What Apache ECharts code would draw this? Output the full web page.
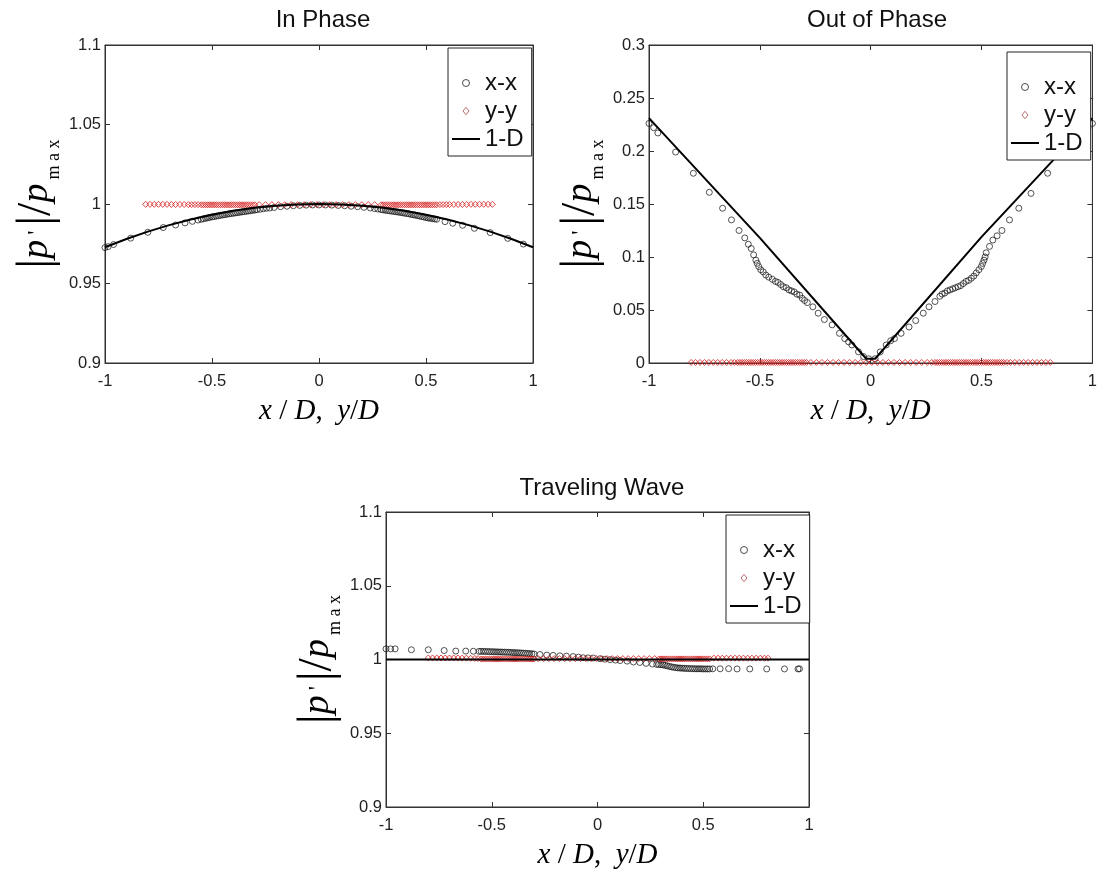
<!DOCTYPE html>
<html>
<head>
<meta charset="utf-8">
<script src="https://cdn.jsdelivr.net/npm/echarts@6/dist/echarts.min.js"></script>
<style>html,body{margin:0;padding:0;background:#fff;}#c{width:1100px;height:871px;}</style>
</head>
<body>
<div id="c"></div>
<script>
// ---------- DATA ----------
const titles = ['In Phase', 'Out of Phase', 'Traveling Wave'];
const legendNames = ['x-x', 'y-y', '1-D'];
const xTickRange = [-1, 1, 0.5];
const yTickRanges = [[0.9, 1.1, 0.05], [0, 0.3, 0.05], [0.9, 1.1, 0.05]];

// In Phase
const ipLine = [[-1,0.9728],[-0.9,0.978],[-0.8,0.9826],[-0.7,0.9867],[-0.6,0.9903],[-0.5,0.9933],[-0.4,0.9957],[-0.3,0.9976],[-0.2,0.9989],[-0.1,0.9997],[0,1.0],[0.1,0.9997],[0.2,0.9989],[0.3,0.9976],[0.4,0.9957],[0.5,0.9933],[0.6,0.9903],[0.7,0.9867],[0.8,0.9826],[0.9,0.978],[1,0.9728]];
const ipXX = [[-1.0,0.9726],[-0.985,0.9732],[-0.96,0.9745],[-0.88,0.9785],[-0.80,0.9822],[-0.728,0.9852],[-0.67,0.9868],[-0.626,0.9881],[-0.592,0.9891],[-0.565,0.9899],
[-0.55,0.9904],[-0.54,0.9907],[-0.53,0.9910],[-0.52,0.9913],[-0.51,0.9916],[-0.50,0.9919],[-0.49,0.9921],[-0.48,0.9924],[-0.47,0.9926],[-0.46,0.9929],[-0.45,0.9931],[-0.44,0.9933],[-0.43,0.9936],[-0.42,0.9938],[-0.41,0.9940],[-0.40,0.9942],[-0.39,0.9944],[-0.38,0.9946],[-0.37,0.9948],[-0.36,0.9950],[-0.35,0.9952],[-0.34,0.9954],[-0.33,0.9956],[-0.32,0.9958],[-0.31,0.9960],[-0.30,0.9962],[-0.29,0.9964],[-0.275,0.9967],[-0.26,0.9970],[-0.245,0.9973],[-0.23,0.9975],[-0.21,0.9978],
[-0.18,0.9983],[-0.15,0.9986],[-0.12,0.9989],[-0.09,0.9991],[-0.06,0.9993],[-0.03,0.9994],[0.0,0.9994],[0.03,0.9994],[0.06,0.9993],[0.09,0.9991],[0.12,0.9989],[0.15,0.9986],[0.18,0.9983],[0.21,0.9979],[0.24,0.9975],
[0.26,0.9971],[0.275,0.9968],[0.29,0.9965],[0.30,0.9963],[0.31,0.9961],[0.32,0.9959],[0.33,0.9957],[0.34,0.9955],[0.35,0.9953],[0.36,0.9951],[0.37,0.9949],[0.38,0.9947],[0.39,0.9945],[0.40,0.9942],[0.41,0.9940],[0.42,0.9938],[0.43,0.9935],[0.44,0.9932],[0.45,0.9930],[0.46,0.9927],[0.47,0.9924],[0.48,0.9921],[0.49,0.9918],[0.50,0.9915],[0.51,0.9912],[0.52,0.9910],[0.53,0.9908],[0.54,0.9906],[0.55,0.9904],
[0.589,0.9889],[0.625,0.9879],[0.671,0.9866],[0.726,0.9847],[0.80,0.9820],[0.882,0.9784],[0.955,0.9748]];
const ipYY = [[-0.81,0.9998],[-0.79,0.9998],[-0.77,0.9998],[-0.75,0.9998],[-0.73,0.9998],[-0.71,0.9998],[-0.69,0.9997],[-0.67,0.9997],[-0.65,0.9997],[-0.63,0.9997],[-0.61,0.9996],[-0.595,0.9996],[-0.58,0.9996],[-0.565,0.9996],
[-0.55,0.9995],[-0.54,0.9995],[-0.53,0.9995],[-0.52,0.9995],[-0.51,0.9995],[-0.50,0.9995],[-0.49,0.9995],[-0.48,0.9995],[-0.47,0.9995],[-0.46,0.9995],[-0.45,0.9995],[-0.44,0.9995],[-0.43,0.9995],[-0.42,0.9995],[-0.41,0.9995],[-0.40,0.9995],[-0.39,0.9995],[-0.38,0.9995],[-0.37,0.9995],[-0.36,0.9995],[-0.35,0.9995],[-0.34,0.9995],[-0.33,0.9995],[-0.32,0.9995],[-0.31,0.9995],[-0.30,0.9995],
[-0.28,0.9996],[-0.25,0.9996],[-0.22,0.9996],[-0.19,0.9996],[-0.16,0.9996],[-0.13,0.9996],[-0.10,0.9996],[-0.07,0.9996],[-0.04,0.9996],[-0.01,0.9996],[0.02,0.9996],[0.05,0.9996],[0.08,0.9996],[0.11,0.9996],[0.14,0.9996],[0.17,0.9996],[0.20,0.9996],[0.23,0.9996],[0.26,0.9996],
[0.29,0.9995],[0.30,0.9995],[0.31,0.9995],[0.32,0.9995],[0.33,0.9995],[0.34,0.9995],[0.35,0.9995],[0.36,0.9995],[0.37,0.9995],[0.38,0.9995],[0.39,0.9995],[0.40,0.9995],[0.41,0.9995],[0.42,0.9995],[0.43,0.9995],[0.44,0.9995],[0.45,0.9995],[0.46,0.9995],[0.47,0.9995],[0.48,0.9995],[0.49,0.9995],[0.50,0.9995],[0.51,0.9995],[0.52,0.9995],[0.53,0.9995],[0.54,0.9995],[0.55,0.9995],
[0.565,0.9996],[0.58,0.9996],[0.595,0.9996],[0.61,0.9996],[0.63,0.9997],[0.65,0.9997],[0.67,0.9997],[0.69,0.9997],[0.71,0.9998],[0.73,0.9998],[0.75,0.9998],[0.77,0.9998],[0.79,0.9998],[0.81,0.9998]];

// Out of Phase
const opLine = [[-1,0.231],[-0.5,0.118],[-0.02,0.004],[0.02,0.004],[0.5,0.119],[1,0.231]];
const opXX = [[-1.0,0.226],[-0.979,0.222],[-0.96,0.217],[-0.88,0.199],[-0.80,0.179],[-0.728,0.161],[-0.668,0.146],[-0.628,0.135],[-0.594,0.125],[-0.568,0.118],[-0.552,0.112],[-0.539,0.108],[-0.528,0.102],[-0.518,0.097],
[-0.512,0.094],[-0.505,0.091],[-0.496,0.088],[-0.485,0.086],[-0.473,0.083],[-0.46,0.081],[-0.444,0.079],[-0.43,0.077],[-0.418,0.076],[-0.406,0.074],[-0.394,0.072],[-0.381,0.071],[-0.369,0.069],[-0.357,0.068],[-0.345,0.067],[-0.333,0.065],[-0.32,0.064],[-0.309,0.061],[-0.298,0.059],
[-0.286,0.057],[-0.261,0.053],[-0.237,0.047],[-0.209,0.041],[-0.174,0.036],[-0.141,0.028],[-0.117,0.023],[-0.10,0.020],[-0.085,0.017],[-0.055,0.0105],[-0.032,0.006],[-0.009,0.004],
[0.02,0.004],[0.043,0.0105],[0.07,0.017],[0.09,0.021],[0.107,0.023],[0.137,0.028],[0.173,0.034],[0.203,0.040],[0.237,0.047],[0.263,0.053],[0.29,0.058],[0.312,0.063],
[0.322,0.065],[0.334,0.066],[0.346,0.068],[0.358,0.069],[0.37,0.070],[0.382,0.071],[0.394,0.072],[0.406,0.073],[0.418,0.075],[0.43,0.077],[0.442,0.078],[0.454,0.080],[0.465,0.082],[0.476,0.085],[0.488,0.088],[0.499,0.091],[0.505,0.094],[0.511,0.097],[0.516,0.100],[0.521,0.104],
[0.536,0.110],[0.551,0.116],[0.57,0.120],[0.592,0.125],[0.626,0.135],[0.668,0.146],[0.723,0.160],[0.798,0.179],[0.88,0.199],[0.96,0.217],[0.98,0.222],[1.0,0.226]];
const opYY = [[-0.81,0.0005],[-0.79,0.0005],[-0.77,0.0005],[-0.75,0.0005],[-0.73,0.0005],[-0.71,0.0005],[-0.69,0.0005],[-0.67,0.0005],[-0.65,0.0005],[-0.63,0.0005],[-0.615,0.0005],
[-0.60,0.0005],[-0.59,0.0005],[-0.58,0.0005],[-0.57,0.0005],[-0.56,0.0005],[-0.55,0.0005],[-0.54,0.0005],[-0.53,0.0005],[-0.52,0.0005],[-0.51,0.0005],[-0.50,0.0005],[-0.49,0.0005],[-0.48,0.0005],[-0.47,0.0005],[-0.46,0.0005],[-0.45,0.0005],[-0.44,0.0005],[-0.43,0.0005],[-0.42,0.0005],[-0.41,0.0005],[-0.40,0.0005],[-0.39,0.0005],[-0.38,0.0005],[-0.37,0.0005],[-0.36,0.0005],[-0.35,0.0005],[-0.34,0.0005],[-0.33,0.0005],[-0.32,0.0005],[-0.31,0.0005],[-0.30,0.0005],[-0.29,0.0005],
[-0.27,0.0005],[-0.245,0.0005],[-0.22,0.0005],[-0.195,0.0005],[-0.17,0.0005],[-0.145,0.0005],[-0.12,0.0005],[-0.095,0.0005],[-0.07,0.0005],[-0.045,0.0005],[-0.02,0.0005],[0.005,0.0005],[0.03,0.0005],[0.055,0.0005],[0.08,0.0005],[0.105,0.0005],[0.13,0.0005],[0.155,0.0005],[0.18,0.0005],[0.205,0.0005],[0.23,0.0005],[0.255,0.0005],[0.275,0.0005],
[0.29,0.0005],[0.30,0.0005],[0.31,0.0005],[0.32,0.0005],[0.33,0.0005],[0.34,0.0005],[0.35,0.0005],[0.36,0.0005],[0.37,0.0005],[0.38,0.0005],[0.39,0.0005],[0.40,0.0005],[0.41,0.0005],[0.42,0.0005],[0.43,0.0005],[0.44,0.0005],[0.45,0.0005],[0.46,0.0005],[0.47,0.0005],[0.48,0.0005],[0.49,0.0005],[0.50,0.0005],[0.51,0.0005],[0.52,0.0005],[0.53,0.0005],[0.54,0.0005],[0.55,0.0005],[0.56,0.0005],[0.57,0.0005],[0.58,0.0005],[0.59,0.0005],[0.60,0.0005],
[0.615,0.0005],[0.63,0.0005],[0.65,0.0005],[0.67,0.0005],[0.69,0.0005],[0.71,0.0005],[0.73,0.0005],[0.75,0.0005],[0.77,0.0005],[0.79,0.0005],[0.81,0.0005]];

// Traveling Wave
const twLine = [[-1,1.0],[0,1.0],[1,1.0]];
const twXX = [[-1.0,1.0072],[-0.978,1.0072],[-0.957,1.0072],[-0.88,1.0066],[-0.80,1.0066],[-0.725,1.0061],[-0.67,1.0057],[-0.623,1.0057],[-0.587,1.0056],[-0.56,1.0055],
[-0.55,1.0055],[-0.54,1.0055],[-0.53,1.0054],[-0.52,1.0054],[-0.51,1.0053],[-0.50,1.0053],[-0.49,1.0052],[-0.48,1.0052],[-0.47,1.0051],[-0.46,1.0051],[-0.45,1.0050],[-0.44,1.0050],[-0.43,1.0049],[-0.42,1.0049],[-0.41,1.0048],[-0.40,1.0047],[-0.39,1.0046],[-0.38,1.0046],[-0.37,1.0045],[-0.36,1.0044],[-0.35,1.0043],[-0.34,1.0042],[-0.33,1.0041],[-0.32,1.0040],[-0.31,1.0039],[-0.30,1.0037],
[-0.272,1.0034],[-0.24,1.0030],[-0.21,1.0028],[-0.178,1.0025],[-0.147,1.0023],[-0.115,1.0020],[-0.09,1.0016],[-0.068,1.0012],[-0.045,1.0011],[-0.02,1.0010],[0.012,1.0005],[0.035,1.0002],[0.06,0.9999],[0.085,0.9996],[0.107,0.9993],[0.14,0.9989],[0.17,0.9983],[0.20,0.9980],[0.23,0.9974],[0.26,0.9969],[0.28,0.9967],
[0.29,0.9966],[0.30,0.9965],[0.31,0.9963],[0.32,0.9960],[0.33,0.9957],[0.34,0.9953],[0.35,0.9950],[0.36,0.9947],[0.37,0.9945],[0.38,0.9943],[0.39,0.9942],[0.40,0.9941],[0.41,0.9940],[0.42,0.9939],[0.43,0.9939],[0.44,0.9938],[0.45,0.9938],[0.46,0.9937],[0.47,0.9937],[0.48,0.9937],[0.49,0.9937],[0.50,0.9936],[0.51,0.9936],[0.52,0.9936],[0.53,0.9936],
[0.545,0.9937],[0.58,0.9937],[0.62,0.9938],[0.66,0.9936],[0.72,0.9936],[0.80,0.9936],[0.884,0.9936],[0.948,0.9936],[0.955,0.9937]];
const twYY = [[-0.80,1.001],[-0.78,1.001],[-0.76,1.001],[-0.74,1.001],[-0.72,1.001],[-0.70,1.001],[-0.68,1.001],[-0.66,1.001],[-0.64,1.0009],[-0.62,1.0009],[-0.60,1.0008],[-0.58,1.0007],[-0.565,1.0006],
[-0.55,1.0003],[-0.54,1.0003],[-0.53,1.0003],[-0.52,1.0003],[-0.51,1.0003],[-0.50,1.0003],[-0.49,1.0003],[-0.48,1.0003],[-0.47,1.0003],[-0.46,1.0003],[-0.45,1.0003],[-0.44,1.0003],[-0.43,1.0003],[-0.42,1.0003],[-0.41,1.0003],[-0.40,1.0003],[-0.39,1.0003],[-0.38,1.0003],[-0.37,1.0003],[-0.36,1.0003],[-0.35,1.0003],[-0.34,1.0003],[-0.33,1.0003],[-0.32,1.0003],[-0.31,1.0003],[-0.30,1.0003],
[-0.28,1.0006],[-0.255,1.0006],[-0.23,1.0006],[-0.205,1.0006],[-0.18,1.0006],[-0.155,1.0006],[-0.13,1.0006],[-0.105,1.0006],[-0.08,1.0006],[-0.055,1.0006],[-0.03,1.0006],[-0.005,1.0006],[0.02,1.0006],[0.045,1.0006],[0.07,1.0006],[0.095,1.0006],[0.12,1.0006],[0.145,1.0006],[0.17,1.0006],[0.195,1.0006],[0.22,1.0006],[0.245,1.0006],[0.27,1.0006],
[0.29,1.0004],[0.30,1.0004],[0.31,1.0004],[0.32,1.0004],[0.33,1.0004],[0.34,1.0004],[0.35,1.0004],[0.36,1.0004],[0.37,1.0004],[0.38,1.0004],[0.39,1.0004],[0.40,1.0004],[0.41,1.0004],[0.42,1.0004],[0.43,1.0004],[0.44,1.0004],[0.45,1.0004],[0.46,1.0004],[0.47,1.0004],[0.48,1.0004],[0.49,1.0004],[0.50,1.0004],[0.51,1.0004],[0.52,1.0004],[0.53,1.0004],
[0.55,1.0009],[0.57,1.0009],[0.59,1.0009],[0.61,1.0009],[0.63,1.0009],[0.65,1.0009],[0.67,1.0009],[0.69,1.0009],[0.71,1.0009],[0.73,1.0009],[0.75,1.0009],[0.77,1.0009],[0.79,1.0009],[0.806,1.0009]];

// ---------- LAYOUT ----------
const FONT = "'Liberation Sans', Arial, Helvetica, sans-serif";
const SERIF = "'Liberation Serif', 'Times New Roman', 'DejaVu Serif', serif";
const panels = [
  {grid:{left:105, top:45, width:428, height:318}, xx:ipXX, yy:ipYY, line:ipLine, legend:{left:448, top:48}, title:{x:318, y:3}},
  {grid:{left:649, top:45, width:446, height:318}, xx:opXX, yy:opYY, line:opLine, legend:{left:1007, top:52}, title:{x:872, y:3}},
  {grid:{left:386, top:512, width:423, height:298}, xx:twXX, yy:twYY, line:twLine, legend:{left:726, top:515}, title:{x:597, y:471}}
];

const yName = '|{p|p}{pr|\'}|/{p|p}{sub|m a x}';
const yNameStyle = {
  fontFamily: SERIF, fontSize: 48, color: '#000', lineHeight: 52,
  rich: {
    p: {fontFamily: SERIF, fontStyle: 'italic', fontSize: 38, color: '#000', lineHeight: 52, padding: [0, 2, 0, 0]},
    pr: {fontFamily: SERIF, fontSize: 24, color: '#000', verticalAlign: 'middle', lineHeight: 24, padding: [0, 5, 0, 3]},
    sub: {fontFamily: SERIF, fontSize: 18, color: '#000', verticalAlign: 'bottom', lineHeight: 22, padding: [0, 0, 0, 2]}
  }
};
const xName = '{i|x}{n| / }{i|D}{n|,  }{i|y}{n|/}{i|D}';
const xNameRich = {
  i: {fontFamily: SERIF, fontStyle: 'italic', fontSize: 29, color: '#000'},
  n: {fontFamily: SERIF, fontSize: 29, color: '#000'}
};
// legend icons sized to the 28x8 icon box so they are not stretched
const circleIcon = 'path://M0,0M28,8M17.5,4A3.5,3.5,0,1,1,10.5,4A3.5,3.5,0,1,1,17.5,4Z';
const diamondIcon = 'path://M0,0M28,8M14,0.3L17,4L14,7.7L11,4Z';

const grid = [], xAxis = [], yAxis = [], series = [], legend = [], title = [];
const tickStyle = {inside: true, length: 5, lineStyle: {color: '#333', width: 1}};
const lineStyleAx = {show: true, onZero: false, lineStyle: {color: '#333', width: 1}};
panels.forEach((pn, i) => {
  grid.push(Object.assign({show: true, borderColor: '#333', borderWidth: 1, backgroundColor: '#fff'}, pn.grid));
  title.push({text: titles[i], left: pn.title.x, top: pn.title.y, textAlign: 'center',
    textStyle: {fontFamily: FONT, fontSize: 24, fontWeight: 'normal', color: '#111'}});
  const yr = yTickRanges[i];
  xAxis.push({gridIndex: i, type: 'value', min: xTickRange[0], max: xTickRange[1], interval: xTickRange[2],
    axisLine: lineStyleAx, axisTick: tickStyle, splitLine: {show: false},
    axisLabel: {fontFamily: FONT, fontSize: 16.5, color: '#222', margin: 10},
    name: xName, nameLocation: 'middle', nameGap: 34, nameTextStyle: {rich: xNameRich}});
  yAxis.push({gridIndex: i, type: 'value', min: yr[0], max: yr[1], interval: yr[2],
    axisLine: lineStyleAx, axisTick: tickStyle, splitLine: {show: false},
    axisLabel: {fontFamily: FONT, fontSize: 16.5, color: '#222', margin: 4},
    name: yName, nameLocation: 'middle', nameRotate: 90, nameGap: 42, nameTextStyle: yNameStyle});
});
panels.forEach((pn, i) => {
  const yr = yTickRanges[i];
  xAxis.push({gridIndex: i, type: 'value', position: 'top', min: xTickRange[0], max: xTickRange[1], interval: xTickRange[2],
    axisLine: lineStyleAx, axisTick: tickStyle, axisLabel: {show: false}, splitLine: {show: false}});
  yAxis.push({gridIndex: i, type: 'value', position: 'right', min: yr[0], max: yr[1], interval: yr[2],
    axisLine: lineStyleAx, axisTick: tickStyle, axisLabel: {show: false}, splitLine: {show: false}});
});
panels.forEach((pn, i) => {
  series.push({type: 'scatter', name: legendNames[0], xAxisIndex: i, yAxisIndex: i, data: pn.xx,
    symbol: 'circle', symbolSize: 6, z: 2,
    itemStyle: {color: 'rgba(255,255,255,0)', borderColor: '#111', borderWidth: 0.9}});
  series.push({type: 'scatter', name: legendNames[1], xAxisIndex: i, yAxisIndex: i, data: pn.yy,
    symbol: 'diamond', symbolSize: [6, 6], z: 3,
    itemStyle: {color: 'rgba(255,255,255,0)', borderColor: '#d41c1c', borderWidth: 1}});
  series.push({type: 'line', name: legendNames[2], xAxisIndex: i, yAxisIndex: i, data: pn.line,
    symbol: 'none', showSymbol: false, z: 4,
    lineStyle: {color: '#000', width: 2}, itemStyle: {color: '#000'}});
  legend.push({left: pn.legend.left, top: pn.legend.top, orient: 'vertical',
    data: [
      {name: legendNames[0], icon: circleIcon, itemStyle: {color: 'rgba(255,255,255,0)', borderColor: '#222', borderWidth: 1}},
      {name: legendNames[1], icon: diamondIcon, itemStyle: {color: 'rgba(255,255,255,0)', borderColor: '#a84848', borderWidth: 1}},
      {name: legendNames[2], itemStyle: {opacity: 0}}
    ],
    backgroundColor: '#fff', borderColor: '#222', borderWidth: 1, padding: [23, 8, 5, 3],
    itemGap: 4, itemWidth: 28, itemHeight: 8, selectedMode: false, z: 10,
    textStyle: {fontFamily: FONT, fontSize: 24, color: '#111', lineHeight: 24}});
});

const chart = echarts.init(document.getElementById('c'), null, {renderer: 'canvas'});
chart.setOption({animation: false, backgroundColor: '#fff', title, grid, xAxis, yAxis, series, legend});
</script>
</body>
</html>
